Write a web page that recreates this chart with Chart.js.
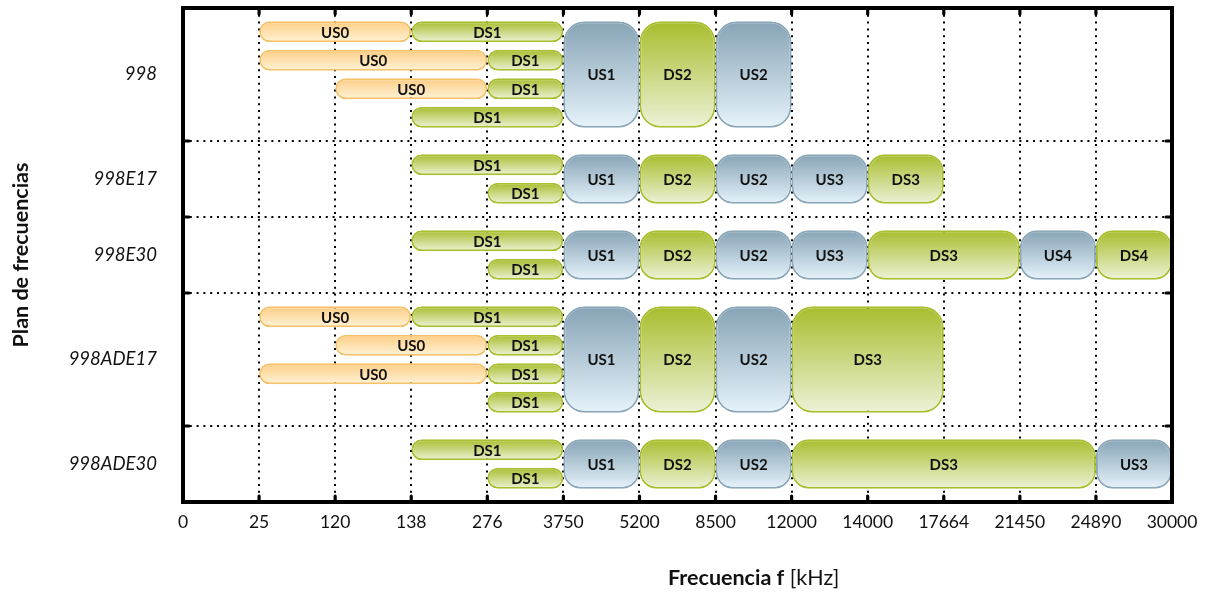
<!DOCTYPE html>
<html>
<head>
<meta charset="utf-8">
<title>Planes de frecuencias VDSL2</title>
<script src="https://cdn.jsdelivr.net/npm/chart.js@4.4.1/dist/chart.umd.min.js"></script>
<style>
  html, body { margin: 0; padding: 0; background: #fff; }
  #wrap { width: 1208px; height: 596px; position: relative; }
</style>
</head>
<body>
<div id="wrap"><canvas id="c"></canvas></div>
<script>
// Band-edge frequencies (kHz); the axis puts them at equal steps
const edgesKHz = [0, 25, 120, 138, 276, 3750, 5200, 8500, 12000, 14000, 17664, 21450, 24890, 30000];

// Frequency plans and the number of stacked lanes each one uses
const plans = ['998', '998E17', '998E30', '998ADE17', '998ADE30'];
const planLanes = [4, 2, 2, 4, 2];

// Bands of every plan: [name, from kHz, to kHz, first lane, last lane]
const bands998 = [
  ['US0', 25, 138, 0, 0], ['DS1', 138, 3750, 0, 0],
  ['US0', 25, 276, 1, 1], ['DS1', 276, 3750, 1, 1],
  ['US0', 120, 276, 2, 2], ['DS1', 276, 3750, 2, 2],
  ['DS1', 138, 3750, 3, 3],
  ['US1', 3750, 5200, 0, 3], ['DS2', 5200, 8500, 0, 3], ['US2', 8500, 12000, 0, 3]
];
const bands998E17 = [
  ['DS1', 138, 3750, 0, 0], ['DS1', 276, 3750, 1, 1],
  ['US1', 3750, 5200, 0, 1], ['DS2', 5200, 8500, 0, 1], ['US2', 8500, 12000, 0, 1],
  ['US3', 12000, 14000, 0, 1], ['DS3', 14000, 17664, 0, 1]
];
const bands998E30 = [
  ['DS1', 138, 3750, 0, 0], ['DS1', 276, 3750, 1, 1],
  ['US1', 3750, 5200, 0, 1], ['DS2', 5200, 8500, 0, 1], ['US2', 8500, 12000, 0, 1],
  ['US3', 12000, 14000, 0, 1], ['DS3', 14000, 21450, 0, 1],
  ['US4', 21450, 24890, 0, 1], ['DS4', 24890, 30000, 0, 1]
];
const bands998ADE17 = [
  ['US0', 25, 138, 0, 0], ['DS1', 138, 3750, 0, 0],
  ['US0', 120, 276, 1, 1], ['DS1', 276, 3750, 1, 1],
  ['US0', 25, 276, 2, 2], ['DS1', 276, 3750, 2, 2],
  ['DS1', 276, 3750, 3, 3],
  ['US1', 3750, 5200, 0, 3], ['DS2', 5200, 8500, 0, 3], ['US2', 8500, 12000, 0, 3],
  ['DS3', 12000, 17664, 0, 3]
];
const bands998ADE30 = [
  ['DS1', 138, 3750, 0, 0], ['DS1', 276, 3750, 1, 1],
  ['US1', 3750, 5200, 0, 1], ['DS2', 5200, 8500, 0, 1], ['US2', 8500, 12000, 0, 1],
  ['DS3', 12000, 24890, 0, 1], ['US3', 24890, 30000, 0, 1]
];
const planBands = [bands998, bands998E17, bands998E30, bands998ADE17, bands998ADE30];

// ---- vertical layout in lane units ----
const GROUP_PAD = 0.833;          // empty space above/below each plan, in lanes
const laneStart = [];
const planCenter = [];
const planSep = [];
let cursor = 0;
planLanes.forEach((n, i) => {
  const first = cursor + GROUP_PAD;
  laneStart.push(first);
  planCenter.push(first + (n - 1) / 2);
  cursor = first + (n - 1) + GROUP_PAD;
  if (i < planLanes.length - 1) planSep.push(cursor);
});
const yMax = cursor;

// ---- styling ----
const LANE_PX = 28.5;
const BAR_PX = 21;
const palette = {
  US0: { top: '#fdcd83', bottom: '#fff3d8', border: '#f5c26b' },
  DS:  { top: '#a8bd2c', bottom: '#edf2d8', border: '#a9bf30' },
  US:  { top: '#86a3b5', bottom: '#e6f3fb', border: '#8ba7b8' }
};
function paletteFor(band) {
  if (band === 'US0') return palette.US0;
  return band.startsWith('DS') ? palette.DS : palette.US;
}
const radiusBySpan = { 1: 10.5, 2: 17, 4: 21 };

// one dataset per lane span, so each gets its own bar thickness
const spanSizes = [1, 2, 4];
const datasets = spanSizes.map(span => {
  const thick = (span - 1) * LANE_PX + BAR_PX;
  return {
    label: 'span' + span,
    data: [],
    grouped: false,
    barThickness: thick,
    borderSkipped: false,
    borderRadius: radiusBySpan[span],
    borderWidth: 2,
    inflateAmount: 0,
    borderColor: ctx => ctx.raw ? paletteFor(ctx.raw.band).border : '#999',
    backgroundColor: ctx => {
      const raw = ctx.raw;
      if (!raw) return 'transparent';
      const pal = paletteFor(raw.band);
      const chart = ctx.chart;
      const ys = chart.scales.y;
      if (!ys || !chart.chartArea) return pal.top;
      const c = ys.getPixelForValue(raw.y);
      const g = chart.ctx.createLinearGradient(0, c - thick / 2, 0, c + thick / 2);
      g.addColorStop(0, pal.top);
      g.addColorStop(1, pal.bottom);
      return g;
    }
  };
});
planBands.forEach((bands, pi) => {
  bands.forEach(([name, f0, f1, l0, l1]) => {
    const span = l1 - l0 + 1;
    datasets[spanSizes.indexOf(span)].data.push({
      x: [edgesKHz.indexOf(f0), edgesKHz.indexOf(f1)],
      y: laneStart[pi] + (l0 + l1) / 2,
      band: name
    });
  });
});

const isSep = v => planSep.some(s => Math.abs(s - v) < 1e-6);
const FONT = 'Lato, "Open Sans", sans-serif';

// band names, frame, inward ticks and axis titles
const decorations = {
  id: 'decorations',
  afterDatasetsDraw(chart) {
    const ctx = chart.ctx;
    ctx.save();
    ctx.font = 'bold 15px ' + FONT;
    ctx.fillStyle = '#111';
    ctx.textAlign = 'center';
    ctx.textBaseline = 'middle';
    chart.data.datasets.forEach((ds, di) => {
      chart.getDatasetMeta(di).data.forEach((el, j) => {
        const p = el.getProps(['x', 'base', 'y'], true);
        ctx.fillText(ds.data[j].band, (p.x + p.base) / 2, p.y + 1);
      });
    });
    ctx.restore();
  },
  afterDraw(chart) {
    const ctx = chart.ctx;
    const a = chart.chartArea;
    const xs = chart.scales.x, ys = chart.scales.y;
    ctx.save();
    ctx.strokeStyle = '#000';
    ctx.lineCap = 'round';
    ctx.lineWidth = 3.2;
    const TL = 6;
    for (let i = 1; i < edgesKHz.length - 1; i++) {
      const px = xs.getPixelForValue(i);
      ctx.beginPath();
      ctx.moveTo(px, a.top); ctx.lineTo(px, a.top + TL);
      ctx.moveTo(px, a.bottom); ctx.lineTo(px, a.bottom - TL);
      ctx.stroke();
    }
    planSep.forEach(s => {
      const py = ys.getPixelForValue(s);
      ctx.beginPath();
      ctx.moveTo(a.left, py); ctx.lineTo(a.left + TL, py);
      ctx.moveTo(a.right, py); ctx.lineTo(a.right - TL, py);
      ctx.stroke();
    });
    ctx.lineCap = 'butt';
    ctx.lineWidth = 4;
    ctx.strokeRect(a.left, a.top, a.right - a.left, a.bottom - a.top);

    // y title
    ctx.fillStyle = '#111';
    ctx.font = 'bold 21.5px ' + FONT;
    ctx.textAlign = 'center';
    ctx.textBaseline = 'middle';
    ctx.save();
    ctx.translate(21, (a.top + a.bottom) / 2);
    ctx.rotate(-Math.PI / 2);
    ctx.fillText('Plan de frecuencias', 0, 0);
    ctx.restore();

    // x title: bold quantity, regular unit
    const boldPart = 'Frecuencia f';
    const unitPart = ' [kHz]';
    ctx.font = 'bold 21.5px ' + FONT;
    const wb = ctx.measureText(boldPart).width;
    ctx.font = '21.5px ' + FONT;
    const wu = ctx.measureText(unitPart).width;
    const cx = a.left + (a.right - a.left) * 0.577;
    const x0 = cx - (wb + wu) / 2;
    const ty = 578;
    ctx.textAlign = 'left';
    ctx.font = 'bold 21.5px ' + FONT;
    ctx.fillText(boldPart, x0, ty);
    ctx.font = '21.5px ' + FONT;
    ctx.fillText(unitPart, x0 + wb, ty);
    ctx.restore();
  }
};

new Chart(document.getElementById('c'), {
  type: 'bar',
  data: { datasets },
  options: {
    indexAxis: 'y',
    responsive: true,
    maintainAspectRatio: false,
    animation: false,
    layout: { padding: { left: 0, right: 36, top: 8, bottom: 0 } },
    plugins: { legend: { display: false }, tooltip: { enabled: false } },
    scales: {
      x: {
        type: 'linear',
        min: 0,
        max: edgesKHz.length - 1,
        offset: false,
        afterBuildTicks(scale) { scale.ticks = edgesKHz.map((_, i) => ({ value: i })); },
        afterFit(scale) { scale.height = 94; },
        ticks: {
          autoSkip: false,
          maxRotation: 0,
          padding: 10,
          color: '#111',
          font: { family: FONT, size: 17.5 },
          callback: v => String(edgesKHz[v])
        },
        grid: { color: '#000', lineWidth: 2, drawTicks: false, offset: false },
        border: { display: false, dash: [2, 4.8] }
      },
      y: {
        type: 'linear',
        min: 0,
        max: yMax,
        reverse: true,
        offset: false,
        afterBuildTicks(scale) {
          scale.ticks = planCenter.concat(planSep).sort((p, q) => p - q).map(v => ({ value: v }));
        },
        afterFit(scale) {
          scale.width = 183;
          scale.paddingTop = 0;
          scale.paddingBottom = 0;
        },
        ticks: {
          autoSkip: false,
          padding: 26,
          color: '#111',
          font: { family: FONT, size: 18.5, style: 'italic' },
          callback: v => {
            const i = planCenter.findIndex(c => Math.abs(c - v) < 1e-6);
            return i >= 0 ? plans[i] : '';
          }
        },
        grid: {
          offset: false,
          drawTicks: false,
          color: ctx => (ctx.tick && isSep(ctx.tick.value)) ? '#000' : 'rgba(0,0,0,0)',
          lineWidth: ctx => (ctx.tick && isSep(ctx.tick.value)) ? 2 : 0
        },
        border: { display: false, dash: [2, 4.8] }
      }
    }
  },
  plugins: [decorations]
});
</script>
</body>
</html>
